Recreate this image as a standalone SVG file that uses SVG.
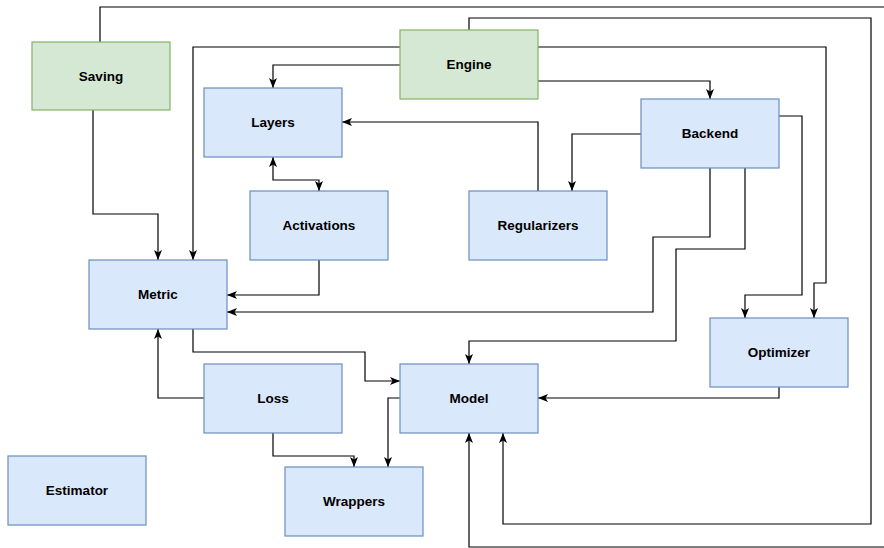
<svg xmlns="http://www.w3.org/2000/svg" width="884" height="548" viewBox="0 0 884 548">
<style>
.b{fill:#dae8fc;stroke:#6c8ebf;stroke-width:1.2}
.g{fill:#d5e8d4;stroke:#82b366;stroke-width:1.2}
.t{font-family:"Liberation Sans",Arial,sans-serif;font-weight:bold;font-size:13.5px;fill:#000;text-anchor:middle;dominant-baseline:central}
.e{fill:none;stroke:#000;stroke-width:1.2}
.a{marker-end:url(#arr)}
</style>
<defs>
<marker id="arr" viewBox="0 0 10 8" refX="10" refY="4" markerWidth="10" markerHeight="8" markerUnits="userSpaceOnUse" orient="auto-start-reverse">
<path d="M0,0 L10,4 L0,8 L2.5,4 Z" fill="#000"/>
</marker>
</defs>
<rect width="884" height="548" fill="#fff"/>
<g id="connectors">
<path class="e a" d="M100,42 V7 H886 V547 H469 V433"/>
<path class="e a" d="M469,30 V18 H871 V524 H503 V433"/>
<path class="e a" d="M400,47 H193 V260"/>
<path class="e a" d="M400,65 H273 V88"/>
<path class="e a" d="M538,47 H826 V283 H814 V318"/>
<path class="e a" d="M538,81 H710 V99"/>
<path class="e a" d="M779,116 H802 V295 H745 V318"/>
<path class="e a" d="M641,134 H572 V191"/>
<path class="e a" d="M538,191 V122 H342"/>
<path class="e a" d="M710,168 V237 H653 V312 H227"/>
<path class="e a" d="M745,168 V249 H676 V341 H469 V364"/>
<path class="e a" d="M779,387 V398 H538"/>
<path class="e a" d="M93,110 V214 H158 V260"/>
<path class="e a" d="M319,260 V295 H227"/>
<path class="e a" d="M273,157 V180 H319 V191" marker-start="url(#arr)"/>
<path class="e a" d="M193,329 V352 H365 V381 H400"/>
<path class="e a" d="M204,398 H158 V329"/>
<path class="e a" d="M273,433 V456 H354 V467"/>
<path class="e a" d="M400,398 H388 V467"/>
</g>
<g id="saving"><rect class="g" x="32" y="42" width="138" height="68"/><text class="t" x="101" y="76">Saving</text></g>
<g id="engine"><rect class="g" x="400" y="30" width="138" height="69"/><text class="t" x="469" y="64.5">Engine</text></g>
<g id="layers"><rect class="b" x="204" y="88" width="138" height="69"/><text class="t" x="273" y="122.5">Layers</text></g>
<g id="backend"><rect class="b" x="641" y="99" width="138" height="69"/><text class="t" x="710" y="133.5">Backend</text></g>
<g id="activations"><rect class="b" x="250" y="191" width="138" height="69"/><text class="t" x="319" y="225.5">Activations</text></g>
<g id="regularizers"><rect class="b" x="469" y="191" width="138" height="69"/><text class="t" x="538" y="225.5">Regularizers</text></g>
<g id="metric"><rect class="b" x="89" y="260" width="138" height="69"/><text class="t" x="158" y="294.5">Metric</text></g>
<g id="optimizer"><rect class="b" x="710" y="318" width="138" height="69"/><text class="t" x="779" y="352.5">Optimizer</text></g>
<g id="loss"><rect class="b" x="204" y="364" width="138" height="69"/><text class="t" x="273" y="398.5">Loss</text></g>
<g id="model"><rect class="b" x="400" y="364" width="138" height="69"/><text class="t" x="469" y="398.5">Model</text></g>
<g id="estimator"><rect class="b" x="8" y="456" width="138" height="69"/><text class="t" x="77" y="490.5">Estimator</text></g>
<g id="wrappers"><rect class="b" x="285" y="467" width="138" height="69"/><text class="t" x="354" y="501.5">Wrappers</text></g>
</svg>
